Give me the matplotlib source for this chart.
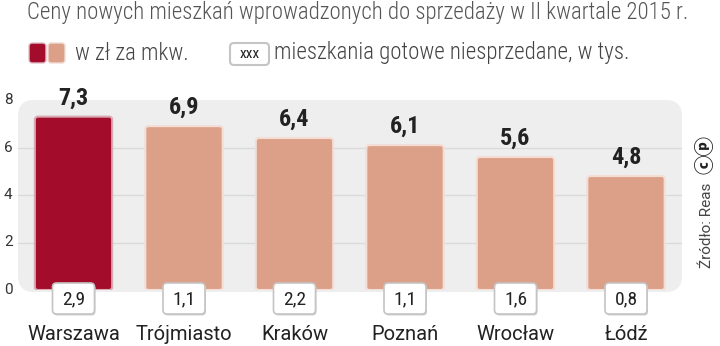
import matplotlib
matplotlib.use("Agg")
import matplotlib.pyplot as plt
from matplotlib.patches import FancyBboxPatch

cities = ["Warszawa", "Trójmiasto", "Kraków", "Poznań", "Wrocław", "Łódź"]
prices = [7.3, 6.9, 6.4, 6.1, 5.6, 4.8]
unsold = [2.9, 1.1, 2.2, 1.1, 1.6, 0.8]
price_labels = ["7,3", "6,9", "6,4", "6,1", "5,6", "4,8"]
unsold_labels = ["2,9", "1,1", "2,2", "1,1", "1,6", "0,8"]
yticks = [0, 2, 4, 6, 8]

COND = ["Roboto Condensed", "DejaVu Sans"]
REG = ["Roboto", "DejaVu Sans"]
plt.rcParams["font.family"] = COND

W, H = 720, 346
fig = plt.figure(figsize=(W / 100, H / 100), dpi=100)

# background axes (pixel coords, y from top)
bg = fig.add_axes([0, 0, 1, 1])
bg.set_xlim(0, W)
bg.set_ylim(H, 0)
bg.axis("off")
bg.set_zorder(0)

# main axes for bars
left_px, right_px = 18, 682
y0_px, y8_px = 290, 100
ax = fig.add_axes([left_px / W, 1 - y0_px / H, (right_px - left_px) / W, (y0_px - y8_px) / H])
ax.set_zorder(1)
ax.patch.set_alpha(0)
step = 110.5
c0 = 73.5
xmin = (left_px - c0) / step
xmax = (right_px - c0) / step
ax.set_xlim(xmin, xmax)
ax.set_ylim(0, 8)
ax.axis("off")

# overlay axes (pixel coords) for boxes and texts
px = fig.add_axes([0, 0, 1, 1])
px.set_xlim(0, W)
px.set_ylim(H, 0)
px.axis("off")
px.set_zorder(2)
px.patch.set_alpha(0)

# background panel
bg.add_patch(FancyBboxPatch((left_px, y8_px), right_px - left_px, y0_px - y8_px + 2,
                            boxstyle="round,pad=0,rounding_size=16",
                            facecolor="#eeeeee", edgecolor="none", zorder=0))

for yv in yticks[1:-1]:
    ax.plot([xmin, xmax], [yv, yv], color="#dadada", lw=1, zorder=1)

for t in yticks:
    ypix = y0_px - (y0_px - y8_px) * t / 8
    px.text(4, ypix, str(t), ha="left", va="center", fontsize=11, color="#333333", family=REG)

colors = ["#a30d2b"] + ["#dca089"] * 5
edges = ["#d9aab4"] + ["#f3ddd4"] * 5
bw = 0.70
xu = 1 / step
yu = 8 / (y0_px - y8_px)
for i, (v, col) in enumerate(zip(prices, colors)):
    bar = FancyBboxPatch((i - bw / 2, 0), bw, v,
                         boxstyle=f"round,pad=0,rounding_size={3 * xu}",
                         mutation_aspect=yu / xu,
                         facecolor=col, edgecolor=edges[i], lw=1.5, zorder=3)
    ax.add_patch(bar)
    ax.text(i, v + 0.78, price_labels[i], ha="center", va="center",
            fontsize=17.5, fontweight="bold", color="#222222", zorder=5)

    cx = c0 + step * i
    px.add_patch(FancyBboxPatch((cx - 21 + 1, 283 + 1.5), 42, 31,
                                boxstyle="round,pad=0,rounding_size=4",
                                facecolor="#d0d0d0", edgecolor="none", zorder=4))
    px.add_patch(FancyBboxPatch((cx - 21, 283), 42, 31,
                                boxstyle="round,pad=0,rounding_size=4",
                                facecolor="white", edgecolor="#c4c4c4", lw=1.2, zorder=5))
    px.text(cx, 299, unsold_labels[i], ha="center", va="center",
            fontsize=14, color="#222222", zorder=6)
    px.text(cx, 334, cities[i], ha="center", va="center",
            fontsize=14.5, color="#222222", family=REG)

# title
px.text(27, 13, "Ceny nowych mieszkań wprowadzonych do sprzedaży w II kwartale 2015 r.",
        ha="left", va="center", fontsize=16.5, fontweight="light", color="#555555")

# legend
px.add_patch(FancyBboxPatch((29, 43), 17, 20, boxstyle="round,pad=0,rounding_size=3",
                            facecolor="#a30d2b", edgecolor="#e0c0c8", lw=1))
px.add_patch(FancyBboxPatch((48, 43), 17, 20, boxstyle="round,pad=0,rounding_size=3",
                            facecolor="#dca089", edgecolor="#f0dcd4", lw=1))
px.text(75, 53, "w zł za mkw.", ha="left", va="center", fontsize=16.5,
        fontweight="light", color="#444444")
px.add_patch(FancyBboxPatch((230, 43), 39, 22, boxstyle="round,pad=0,rounding_size=4",
                            facecolor="white", edgecolor="#c4c4c4", lw=1.5))
px.text(249.5, 54, "xxx", ha="center", va="center", fontsize=11, color="#222222")
px.text(274, 53, "mieszkania gotowe niesprzedane, w tys.", ha="left", va="center",
        fontsize=16.5, fontweight="light", color="#444444")

# source
px.text(707, 225, "Źródło: Reas", rotation=90, ha="center", va="center",
        fontsize=11, color="#444444", family=REG)
px.text(706, 155, "ⓒⓟ", rotation=90, ha="center", va="center",
        fontsize=14, fontweight="heavy", color="#222222",
        family=["Noto Sans CJK JP", "DejaVu Sans"])

fig.savefig("out.png", dpi=100, facecolor="white")
